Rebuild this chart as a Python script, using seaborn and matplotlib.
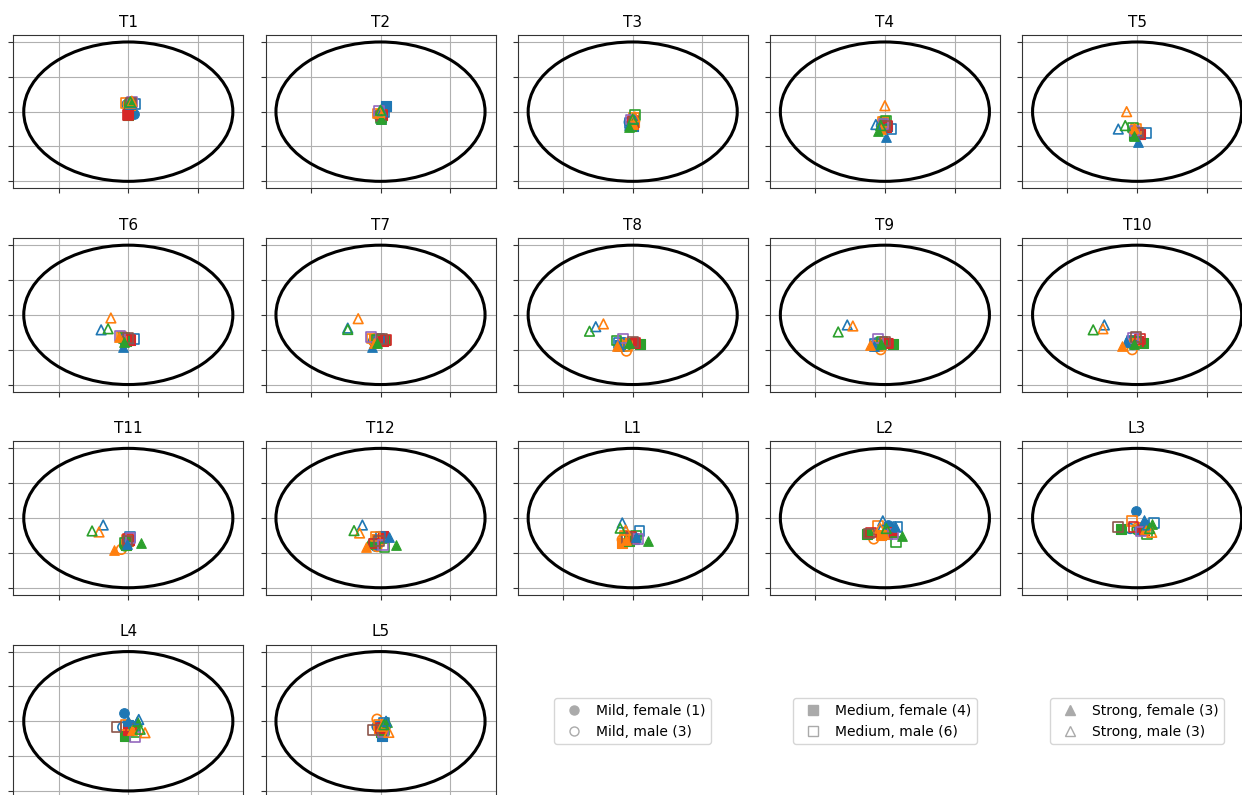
import numpy as np
import matplotlib
matplotlib.use("Agg")
import matplotlib.pyplot as plt
from matplotlib.patches import Ellipse
from matplotlib.lines import Line2D
import seaborn as sns

panels = ["T1", "T2", "T3", "T4", "T5", "T6", "T7", "T8", "T9", "T10", "T11", "T12",
          "L1", "L2", "L3", "L4", "L5"]

# one row per panel, one (x, y) per subject; subject k is drawn in colour Ck
mild_f = [
    [(0.08, -0.08)], [(0.0, -0.15)], [(-0.02, -0.35)], [(0.0, -0.45)], [(-0.03, -0.6)],
    [(-0.06, -0.72)], [(-0.08, -0.8)], [(-0.15, -0.85)], [(-0.1, -0.85)], [(-0.08, -0.8)],
    [(-0.06, -0.75)], [(-0.08, -0.8)], [(-0.05, -0.55)], [(0.05, -0.2)], [(-0.02, 0.19)],
    [(-0.06, 0.24)], [(0.0, -0.1)],
]
mild_m = [
    [(-0.02, 0.2), (0.0, 0.22), (0.02, 0.18)],
    [(-0.03, -0.1), (0.0, -0.05), (0.02, -0.12)],
    [(-0.05, -0.3), (0.0, -0.25), (0.02, -0.3)],
    [(-0.05, -0.4), (0.02, -0.35), (0.0, -0.3)],
    [(-0.05, -0.55), (0.0, -0.6), (-0.02, -0.65)],
    [(-0.08, -0.68), (-0.04, -0.75), (-0.06, -0.7)],
    [(-0.1, -0.75), (-0.06, -0.8), (-0.08, -0.78)],
    [(-0.12, -0.8), (-0.09, -1.04), (-0.1, -0.9)],
    [(-0.12, -0.8), (-0.06, -1.0), (-0.1, -0.88)],
    [(-0.1, -0.76), (-0.07, -1.0), (-0.06, -0.85)],
    [(-0.04, -0.68), (-0.1, -0.9), (-0.05, -0.8)],
    [(-0.1, -0.72), (-0.05, -0.82), (-0.12, -0.75)],
    [(-0.1, -0.5), (-0.15, -0.62), (-0.02, -0.6)],
    [(-0.02, -0.35), (-0.16, -0.6), (0.05, -0.4)],
    [(-0.1, -0.3), (0.0, -0.28), (0.0, -0.34)],
    [(-0.08, -0.17), (0.02, -0.2), (0.05, -0.25)],
    [(-0.05, -0.15), (-0.05, 0.06), (0.02, -0.2)],
]
medium_f = [
    [(0.03, 0.24), (0.02, 0.2), (0.0, -0.1), (0.0, -0.08)],
    [(0.08, 0.17), (0.0, -0.08), (0.0, -0.15), (0.02, -0.1)],
    [(0.0, -0.4), (0.02, -0.3), (-0.03, -0.42), (0.0, -0.35)],
    [(0.03, -0.4), (0.0, -0.37), (-0.01, -0.26), (0.02, -0.45)],
    [(0.0, -0.58), (-0.03, -0.62), (-0.05, -0.66), (0.04, -0.64)],
    [(-0.05, -0.7), (-0.02, -0.72), (-0.04, -0.75), (0.03, -0.72)],
    [(-0.05, -0.74), (-0.1, -0.7), (0.06, -0.72), (0.04, -0.75)],
    [(-0.18, -0.86), (-0.12, -0.82), (0.11, -0.84), (0.02, -0.82)],
    [(-0.12, -0.86), (-0.08, -0.82), (0.12, -0.83), (0.03, -0.8)],
    [(-0.05, -0.78), (-0.03, -0.72), (0.08, -0.8), (0.02, -0.76)],
    [(-0.03, -0.7), (0.0, -0.65), (-0.04, -0.78), (0.01, -0.62)],
    [(0.03, -0.53), (-0.05, -0.6), (-0.09, -0.72), (0.04, -0.51)],
    [(0.02, -0.6), (-0.15, -0.72), (-0.05, -0.65), (0.0, -0.58)],
    [(0.03, -0.45), (-0.05, -0.48), (-0.26, -0.45), (0.1, -0.4)],
    [(0.05, -0.3), (0.1, -0.27), (-0.23, -0.32), (0.1, -0.35)],
    [(0.0, -0.1), (0.05, -0.2), (-0.05, -0.43), (0.0, -0.24)],
    [(0.02, -0.43), (-0.02, -0.2), (0.0, -0.3), (0.03, -0.25)],
]
medium_m = [
    [(0.1, 0.22), (-0.03, 0.25), (0.02, 0.2), (0.0, -0.1), (0.05, 0.28), (0.04, 0.24)],
    [(0.05, -0.02), (-0.04, -0.05), (0.01, -0.18), (0.03, -0.08), (-0.02, 0.02), (0.0, -0.12)],
    [(-0.04, -0.32), (0.02, -0.18), (0.03, -0.1), (0.0, -0.25), (-0.02, -0.22), (0.01, -0.28)],
    [(0.09, -0.49), (-0.03, -0.3), (0.02, -0.25), (0.04, -0.4), (-0.02, -0.35), (0.0, -0.42)],
    [(0.13, -0.61), (-0.02, -0.5), (-0.06, -0.45), (0.05, -0.66), (-0.04, -0.55), (0.01, -0.6)],
    [(0.08, -0.69), (-0.1, -0.62), (-0.06, -0.66), (0.02, -0.72), (-0.12, -0.6), (0.0, -0.66)],
    [(-0.02, -0.7), (-0.12, -0.68), (-0.06, -0.72), (0.08, -0.72), (-0.14, -0.63), (0.02, -0.7)],
    [(-0.2, -0.8), (-0.08, -0.9), (-0.23, -0.74), (0.04, -0.8), (-0.14, -0.68), (0.0, -0.78)],
    [(-0.15, -0.82), (-0.1, -0.9), (-0.04, -0.78), (0.05, -0.82), (-0.1, -0.68), (0.0, -0.76)],
    [(-0.08, -0.74), (-0.04, -0.82), (-0.02, -0.78), (0.04, -0.7), (-0.06, -0.66), (-0.02, -0.63)],
    [(0.02, -0.55), (-0.02, -0.62), (-0.05, -0.7), (0.0, -0.6), (0.03, -0.58), (-0.01, -0.66)],
    [(0.0, -0.55), (-0.07, -0.53), (0.06, -0.84), (-0.09, -0.73), (0.04, -0.77), (-0.02, -0.65)],
    [(0.1, -0.37), (-0.12, -0.52), (0.05, -0.5), (-0.02, -0.55), (0.08, -0.6), (-0.08, -0.58)],
    [(0.18, -0.25), (-0.1, -0.22), (0.16, -0.68), (-0.2, -0.42), (0.12, -0.45), (-0.23, -0.44)],
    [(0.24, -0.14), (-0.07, -0.08), (0.14, -0.46), (-0.05, -0.25), (0.06, -0.39), (-0.27, -0.25)],
    [(0.08, -0.15), (-0.04, -0.1), (0.1, -0.3), (0.04, -0.22), (0.1, -0.46), (-0.17, -0.17)],
    [(0.05, -0.05), (-0.03, -0.1), (0.06, -0.25), (0.0, -0.2), (0.04, -0.3), (-0.11, -0.26)],
]
strong_f = [
    [(0.02, 0.22), (0.03, 0.24), (0.03, 0.27)],
    [(0.0, -0.2), (-0.02, -0.05), (0.0, -0.22)],
    [(-0.05, -0.38), (0.0, -0.35), (-0.06, -0.45)],
    [(0.02, -0.72), (-0.05, -0.5), (-0.1, -0.55)],
    [(0.01, -0.88), (-0.05, -0.46), (-0.05, -0.69)],
    [(-0.08, -0.92), (-0.14, -0.65), (-0.06, -0.78)],
    [(-0.12, -0.92), (-0.1, -0.82), (-0.05, -0.8)],
    [(-0.2, -0.9), (-0.22, -0.88), (-0.05, -0.82)],
    [(-0.16, -0.88), (-0.22, -0.86), (-0.06, -0.84)],
    [(-0.16, -0.77), (-0.22, -0.89), (-0.04, -0.84)],
    [(-0.02, -0.74), (-0.21, -0.92), (0.18, -0.72)],
    [(0.12, -0.54), (-0.21, -0.82), (0.22, -0.77)],
    [(0.05, -0.55), (-0.1, -0.62), (0.22, -0.66)],
    [(0.15, -0.22), (-0.02, -0.45), (0.25, -0.51)],
    [(0.1, -0.06), (0.12, -0.3), (0.21, -0.17)],
    [(-0.01, 0.02), (0.06, -0.25), (0.12, 0.0)],
    [(0.06, -0.05), (0.0, -0.15), (0.09, -0.03)],
]
strong_m = [
    [(0.04, 0.26), (0.05, 0.3), (0.03, 0.28)],
    [(0.02, 0.0), (-0.01, -0.02), (0.0, 0.04)],
    [(0.01, -0.2), (0.03, -0.15), (0.0, -0.22)],
    [(-0.13, -0.37), (0.0, 0.17), (-0.06, -0.4)],
    [(-0.27, -0.5), (-0.15, 0.0), (-0.17, -0.4)],
    [(-0.39, -0.43), (-0.25, -0.09), (-0.29, -0.4)],
    [(-0.47, -0.38), (-0.32, -0.11), (-0.47, -0.42)],
    [(-0.53, -0.34), (-0.42, -0.26), (-0.62, -0.47)],
    [(-0.54, -0.29), (-0.46, -0.32), (-0.67, -0.49)],
    [(-0.47, -0.29), (-0.49, -0.4), (-0.63, -0.43)],
    [(-0.36, -0.2), (-0.42, -0.4), (-0.52, -0.37)],
    [(-0.26, -0.2), (-0.3, -0.43), (-0.38, -0.36)],
    [(-0.15, -0.14), (-0.1, -0.35), (-0.18, -0.29)],
    [(-0.03, -0.08), (-0.07, -0.29), (0.02, -0.3)],
    [(0.15, -0.2), (0.21, -0.41), (0.18, -0.3)],
    [(0.15, 0.05), (0.24, -0.33), (0.17, -0.23)],
    [(0.08, 0.0), (0.12, -0.32), (0.05, -0.1)],
]

# (label, data, marker, filled)
groups = [
    ("Mild, female (1)", mild_f, "o", True),
    ("Mild, male (3)", mild_m, "o", False),
    ("Medium, female (4)", medium_f, "s", True),
    ("Medium, male (6)", medium_m, "s", False),
    ("Strong, female (3)", strong_f, "^", True),
    ("Strong, male (3)", strong_m, "^", False),
]

colors = sns.color_palette("tab10")

fig = plt.figure(figsize=(12.42, 7.95), dpi=100)
W, H = 1242, 795


def panel_axes(row, col):
    left = 13.3 + 252.2 * col
    top = 35.0 + 203.2 * row
    return fig.add_axes([left / W, 1 - (top + 153.3) / H, 230.0 / W, 153.3 / H])


for i, name in enumerate(panels):
    ax = panel_axes(i // 5, i % 5)
    ax.add_patch(Ellipse((0, 0), 3, 4, fill=False, color="black", lw=2.2, zorder=2))
    for label, data, marker, filled in groups:
        for k, (x, y) in enumerate(data[i]):
            c = colors[k]
            if filled:
                sns.scatterplot(x=[x], y=[y], ax=ax, marker=marker, s=48,
                                color=c, edgecolor=c, linewidth=0.8, zorder=3)
            else:
                sns.scatterplot(x=[x], y=[y], ax=ax, marker=marker, s=48,
                                facecolor="none", edgecolor=c, linewidth=1.2, zorder=3)
    ax.set_xlim(-1.65, 1.65)
    ax.set_ylim(-2.2, 2.2)
    ax.set_xticks([-1, 0, 1])
    ax.set_yticks([-2, -1, 0, 1, 2])
    ax.set_xticklabels([])
    ax.set_yticklabels([])
    ax.set_xlabel("")
    ax.set_ylabel("")
    ax.grid(True, color="#b0b0b0", lw=0.8)
    ax.set_axisbelow(True)
    for sp in ax.spines.values():
        sp.set_color("#333333")
    ax.tick_params(color="#333333")
    ax.set_title(name, fontsize=11)

# three legends in the empty slots of the last row
for j in range(3):
    ax = panel_axes(3, 2 + j)
    ax.axis("off")
    handles = []
    for label, data, marker, filled in groups[2 * j:2 * j + 2]:
        handles.append(Line2D([], [], ls="none", marker=marker, markersize=6.5,
                              color="#aaaaaa",
                              markerfacecolor="#aaaaaa" if filled else "none",
                              label=label))
    ax.legend(handles=handles, loc="center", fontsize=10, handletextpad=0.6)

fig.savefig("out.png", dpi=100)
